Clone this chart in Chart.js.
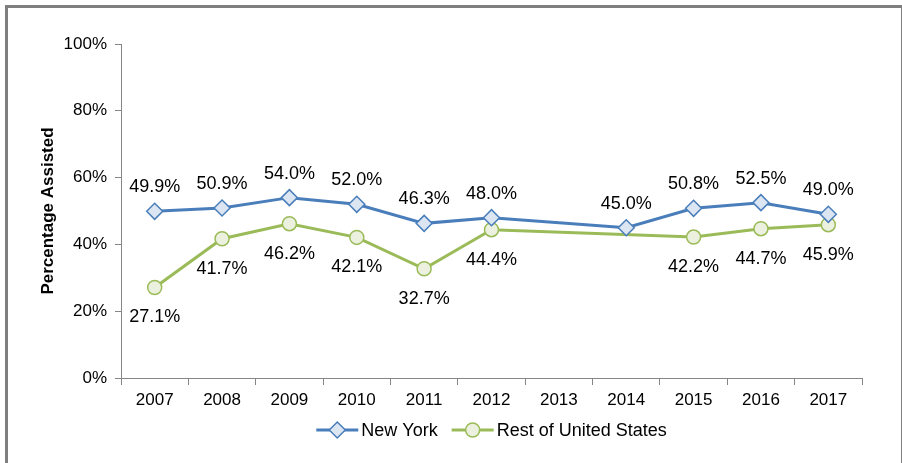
<!DOCTYPE html>
<html>
<head>
<meta charset="utf-8">
<script src="https://cdn.jsdelivr.net/npm/chart.js@4.4.0/dist/chart.umd.min.js"></script>
<style>
  body { margin: 0; background: #fff; }
  #wrap { position: relative; width: 902px; height: 463px; }
  #frame { position: absolute; left: 5px; top: 5px; width: 893px; height: 470px;
           border-top: 3px solid #7f7f7f; border-left: 3px solid #7f7f7f; border-right: 2px solid #7f7f7f; }
  canvas { position: absolute; left: 0; top: 0; }
</style>
</head>
<body>
<div id="wrap">
  <div id="frame"></div>
  <canvas id="myChart" width="902" height="463"></canvas>
</div>
<script>
let years = ['2007','2008','2009','2010','2011','2012','2013','2014','2015','2016','2017'];
let newYork = [49.9, 50.9, 54.0, 52.0, 46.3, 48.0, null, 45.0, 50.8, 52.5, 49.0];
let restUS = [27.1, 41.7, 46.2, 42.1, 32.7, 44.4, null, null, 42.2, 44.7, 45.9];

let blue = '#4a7ebb', blueFill = '#dce6f2';
let green = '#9bbb59', greenFill = '#ebf1de';
let font = '"Liberation Sans", Arial, sans-serif';

// labels drawn next to each point
let valueLabels = {
  id: 'valueLabels',
  afterDatasetsDraw(chart) {
    let ctx = chart.ctx;
    ctx.save();
    ctx.font = '18px ' + font;
    ctx.fillStyle = '#000';
    ctx.textAlign = 'center';
    ctx.textBaseline = 'middle';
    chart.data.datasets.forEach(function(ds, i) {
      let meta = chart.getDatasetMeta(i);
      meta.data.forEach(function(pt, j) {
        let v = ds.data[j];
        if (v == null) return;
        let dy = i == 0 ? -24 : 30;
        ctx.fillText(v.toFixed(1) + '%', pt.x, pt.y + dy);
      });
    });
    ctx.restore();
  }
};

// legend with line + marker like the original
let lineLegend = {
  id: 'lineLegend',
  afterDraw(chart) {
    let ctx = chart.ctx;
    ctx.save();
    ctx.font = '18px ' + font;
    ctx.textBaseline = 'middle';
    let items = chart.data.datasets.map(function(ds) {
      return { ds: ds, w: 42 + 3 + ctx.measureText(ds.label).width };
    });
    let gap = 14;
    let total = items.reduce((a, b) => a + b.w, 0) + gap * (items.length - 1);
    let x = (chart.chartArea.left + chart.chartArea.right) / 2 - total / 2;
    let y = 430;
    items.forEach(function(it) {
      let ds = it.ds;
      ctx.strokeStyle = ds.borderColor;
      ctx.lineWidth = 3;
      ctx.beginPath(); ctx.moveTo(x, y); ctx.lineTo(x + 42, y); ctx.stroke();
      ctx.fillStyle = ds.pointBackgroundColor;
      ctx.lineWidth = 1.5;
      ctx.beginPath();
      if (ds.pointStyle == 'rectRot') {
        ctx.moveTo(x + 21, y - 8); ctx.lineTo(x + 29, y); ctx.lineTo(x + 21, y + 8); ctx.lineTo(x + 13, y); ctx.closePath();
      } else {
        ctx.arc(x + 21, y, 7, 0, Math.PI * 2);
      }
      ctx.fill(); ctx.stroke();
      ctx.fillStyle = '#000';
      ctx.fillText(ds.label, x + 45, y + 1);
      x += it.w + gap;
    });
    ctx.restore();
  }
};

let ctx = document.getElementById('myChart');
let chart = new Chart(ctx, {
  type: 'line',
  data: {
    labels: years,
    datasets: [{
      label: 'New York',
      data: newYork,
      borderColor: blue,
      borderWidth: 3,
      pointStyle: 'rectRot',
      pointRadius: 8,
      pointBorderWidth: 1.5,
      pointBackgroundColor: blueFill,
      pointBorderColor: blue,
      spanGaps: true,
      tension: 0
    }, {
      label: 'Rest of United States',
      data: restUS,
      borderColor: green,
      borderWidth: 3,
      pointStyle: 'circle',
      pointRadius: 7,
      pointBorderWidth: 1.5,
      pointBackgroundColor: greenFill,
      pointBorderColor: green,
      spanGaps: true,
      tension: 0
    }]
  },
  options: {
    responsive: false,
    animation: false,
    layout: { padding: { left: 38, right: 40, top: 44, bottom: 0 } },
    plugins: {
      legend: { display: false },
      tooltip: { enabled: false }
    },
    scales: {
      x: {
        offset: true,
        grid: { drawOnChartArea: false, drawTicks: true, tickLength: 7, color: '#868686', offset: true },
        border: { color: '#868686', width: 1 },
        ticks: { color: '#000', font: { family: font, size: 17 }, padding: 5, maxRotation: 0 },
        afterFit(scale) { scale.height = 85; }
      },
      y: {
        min: 0, max: 100,
        ticks: { stepSize: 20, color: '#000', font: { family: font, size: 17 }, padding: 8,
                 callback: v => v + '%' },
        grid: { drawOnChartArea: false, drawTicks: true, tickLength: 6, color: '#868686' },
        border: { color: '#868686', width: 1 },
        title: { display: true, text: 'Percentage Assisted', color: '#000',
                 font: { family: font, size: 17, weight: 'bold' }, padding: { top: 0, bottom: 4 } },
        afterFit(scale) { scale.width = 83; }
      }
    }
  },
  plugins: [valueLabels, lineLegend]
});
</script>
</body>
</html>
